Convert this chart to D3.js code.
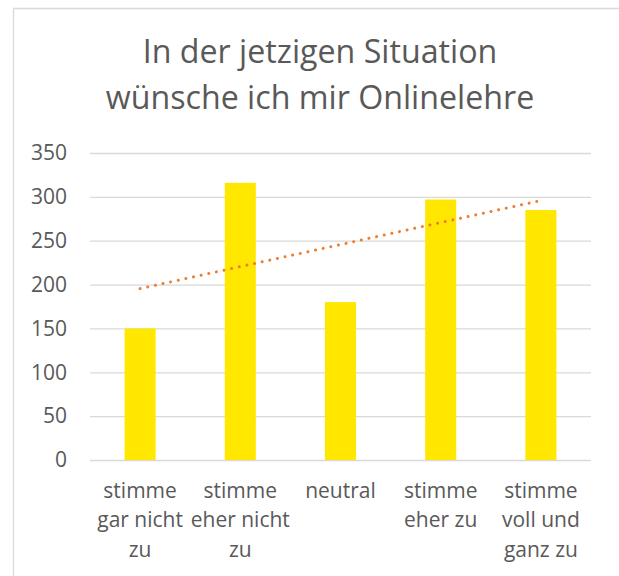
<!DOCTYPE html>
<html>
<head>
<meta charset="utf-8">
<script src="https://cdn.jsdelivr.net/npm/d3@7"></script>
<style>
  body { margin: 0; background: #fff; }
  text { font-family: "Open Sans", sans-serif; fill: #595959; }
</style>
</head>
<body>
<svg id="chart" width="619" height="576"></svg>
<script>
// values
var categories = ["stimme gar nicht zu", "stimme eher nicht zu", "neutral", "stimme eher zu", "stimme voll und ganz zu"];
var labelLines = [["stimme", "gar nicht", "zu"], ["stimme", "eher nicht", "zu"], ["neutral"], ["stimme", "eher zu"], ["stimme", "voll und", "ganz zu"]];
var counts = [150, 316, 180, 297, 285];
var yTicks = [0, 50, 100, 150, 200, 250, 300, 350];
var titleLines = ["In der jetzigen Situation", "wünsche ich mir Onlinelehre"];

var svg = d3.select("#chart");
var plotLeft = 90, plotRight = 591, plotTop = 152, plotBottom = 460;

// chart frame (only left and top edges are visible in the picture)
svg.append("line").attr("x1", 13.5).attr("x2", 13.5).attr("y1", 8).attr("y2", 576)
    .attr("stroke", "#d9d9d9").attr("stroke-width", 1.3);
svg.append("line").attr("x1", 13).attr("x2", 619).attr("y1", 8.5).attr("y2", 8.5)
    .attr("stroke", "#d9d9d9").attr("stroke-width", 1.3);

// title
svg.append("text")
    .attr("text-anchor", "middle")
    .style("font-size", "32.2px")
    .selectAll("tspan")
    .data(titleLines)
    .enter()
    .append("tspan")
    .attr("x", 320)
    .attr("y", function(d, i) { return 63 + i * 45.5; })
    .text(function(d) { return d; });

var x = d3.scaleBand().domain(categories).range([plotLeft, plotRight])
    .paddingInner(0.69).paddingOuter(0.345);
var y = d3.scaleLinear().domain([0, 350]).range([plotBottom, plotTop + 1]);

// y axis with gridlines
var yAxis = svg.append("g")
    .attr("transform", "translate(" + plotLeft + ",0)")
    .call(d3.axisLeft(y).tickValues(yTicks).tickSizeInner(-(plotRight - plotLeft)).tickSizeOuter(0).tickPadding(23));
yAxis.select(".domain").remove();
yAxis.selectAll("line").attr("stroke", "#d9d9d9").attr("stroke-width", 1.3);
yAxis.selectAll("text").style("font-size", "21px").style("font-family", null).attr("fill", null);

// bars
svg.selectAll("rect.bar")
    .data(counts)
    .enter()
    .append("rect")
    .attr("class", "bar")
    .attr("x", function(d, i) { return x(categories[i]); })
    .attr("width", x.bandwidth())
    .attr("y", function(d) { return y(d); })
    .attr("height", function(d) { return y(0) - y(d); })
    .attr("fill", "#ffe700");

// linear trend line (least squares over category index 1..n)
var n = counts.length;
var mx = (n + 1) / 2, my = d3.mean(counts);
var sxy = 0, sxx = 0;
counts.forEach(function(d, i) { sxy += (i + 1 - mx) * (d - my); sxx += (i + 1 - mx) * (i + 1 - mx); });
var slope = sxy / sxx, icpt = my - slope * mx;
var half = x.bandwidth() / 2;
svg.append("line")
    .attr("x1", x(categories[0]) + half)
    .attr("y1", y(icpt + slope * 1))
    .attr("x2", x(categories[n - 1]) + half)
    .attr("y2", y(icpt + slope * n))
    .attr("stroke", "#ed7d31")
    .attr("stroke-width", 3)
    .attr("stroke-linecap", "round")
    .attr("stroke-dasharray", "0.01 7.8");

// x labels
var xl = svg.append("g").selectAll("text")
    .data(labelLines)
    .enter()
    .append("text")
    .attr("text-anchor", "middle")
    .style("font-size", "21px");
xl.selectAll("tspan")
    .data(function(d, i) { return d.map(function(s) { return { s: s, i: i }; }); })
    .enter()
    .append("tspan")
    .attr("x", function(d) { return x(categories[d.i]) + half; })
    .attr("y", function(d, j) { return 498 + j * 29.3; })
    .text(function(d) { return d.s; });
</script>
</body>
</html>
